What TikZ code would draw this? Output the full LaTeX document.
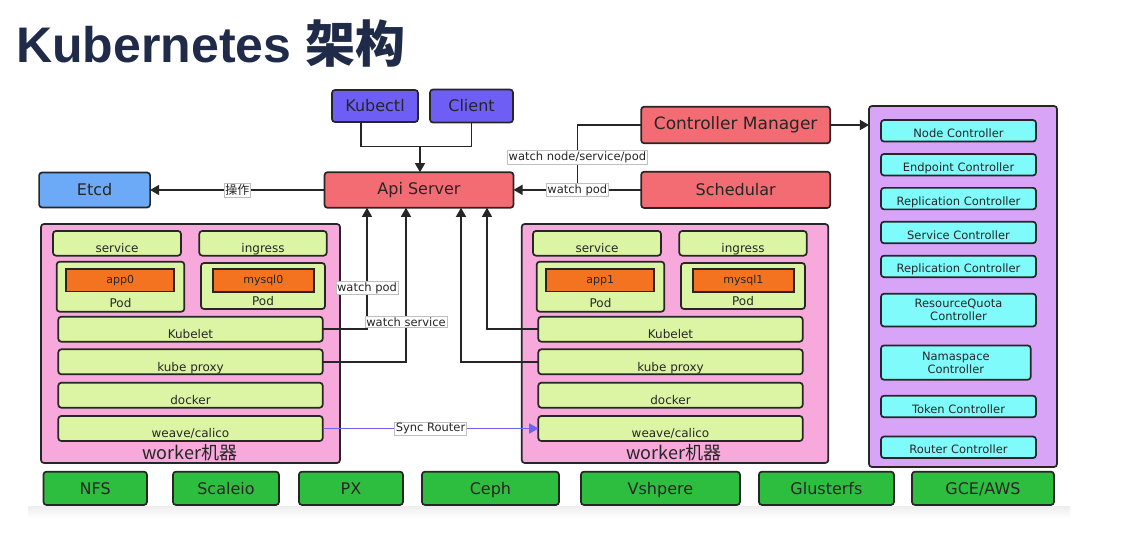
\documentclass[tikz,border=0pt]{standalone}
\usepackage{fontspec}
\setmainfont{DejaVu Sans}
\newfontfamily\cjk{Noto Sans CJK SC}
\newfontfamily\heads{Liberation Sans}
\usetikzlibrary{arrows,positioning}

\definecolor{navy}{HTML}{1F2B48}
\definecolor{ink}{HTML}{262626}
\definecolor{edge}{HTML}{262626}
\definecolor{kblue}{HTML}{6E5EF6}
\definecolor{etcdblue}{HTML}{6CAAF7}
\definecolor{kred}{HTML}{F46C73}
\definecolor{kpink}{HTML}{F6A9DA}
\definecolor{lgreen}{HTML}{DCF5A5}
\definecolor{korange}{HTML}{F47321}
\definecolor{kcyan}{HTML}{80FBFB}
\definecolor{kpurple}{HTML}{D8A4F8}
\definecolor{kgreen}{HTML}{2DBE3F}
\definecolor{syncblue}{HTML}{6F63F2}

\begin{document}
\begin{tikzpicture}[x=1pt,y=-1pt,>=triangle 60,
    box/.style={draw=edge,line width=1.7pt,rounded corners=3pt,inner sep=0pt,outer sep=0pt,text=ink},
    big/.style={box,font=\fontsize{16}{18}\selectfont},
    tag/.style={box,fill=lgreen,minimum height=24.7pt,text height=18.8pt,text depth=0pt,font=\fontsize{12}{14}\selectfont},
    pod/.style={box,fill=lgreen,font=\fontsize{12}{14}\selectfont,text depth=0pt},
    app/.style={box,fill=korange,rounded corners=0pt,minimum width=108pt,minimum height=22.5pt,font=\fontsize{11}{12}\selectfont},
    bar/.style={box,fill=lgreen,minimum width=264.4pt,minimum height=25pt,text height=18.6pt,text depth=0pt,font=\fontsize{12}{14}\selectfont},
    wlabel/.style={anchor=base,inner sep=0pt,text=ink,font=\cjk\fontsize{18}{20}\selectfont},
    ctrlbase/.style={box,fill=kcyan,minimum width=155pt,minimum height=21.5pt,align=center,font=\fontsize{11.5}{13.4}\selectfont},
    ctrl/.style={ctrlbase,text height=13pt,text depth=0pt},
    store/.style={box,fill=kgreen,minimum height=33.3pt,text height=13pt,text depth=0pt,font=\fontsize{16}{18}\selectfont},
    lbl/.style={fill=white,draw=black!25,line width=0.4pt,inner sep=1.2pt,text=ink,font=\fontsize{11.5}{13}\selectfont},
    link/.style={draw=edge,line width=1.5pt},
    sync/.style={draw=syncblue,line width=1.5pt}]

\useasboundingbox (0,0) rectangle (1124,544);
\shade[top color=black!7,bottom color=white] (28,506) rectangle (1070,518);

% title
\node[anchor=base west,inner sep=0pt,text=navy,font=\fontsize{50}{56}\selectfont] (title) at (16,62) {\heads\bfseries Kubernetes \cjk\bfseries 架构};

% master side
\node[big,fill=kblue,minimum width=86pt,minimum height=32pt] (kubectl) at (375,106) {Kubectl};
\node[big,fill=kblue,minimum width=83pt,minimum height=33pt,right=12pt of kubectl] (client) {Client};
\node[big,fill=kred,minimum width=189pt,minimum height=35.6pt] (api) at (419,190) {Api Server};
\node[big,fill=etcdblue,minimum width=111pt,minimum height=35pt] (etcd) at (94.6,190) {Etcd};
\node[big,fill=kred,minimum width=189pt,minimum height=36.6pt,font=\fontsize{17}{19}\selectfont] (cm) at (735.7,125) {Controller Manager};
\node[big,fill=kred,minimum width=189pt,minimum height=36.3pt,below=28.4pt of cm] (sched) {Schedular};

% controllers
\node[box,fill=kpurple,minimum width=188pt,minimum height=361pt] (ctrls) at (963,286.5) {};
\node[ctrl] (nodec) at (958.5,130.8) {Node Controller};
\node[ctrl,below=12.4pt of nodec] (endpc) {Endpoint Controller};
\node[ctrl,below=12.4pt of endpc] (replc) {Replication Controller};
\node[ctrl,below=12.4pt of replc] (svcc) {Service Controller};
\node[ctrl,below=12.4pt of svcc] (repltc) {Replication Controller};
\node[ctrlbase,minimum height=32.7pt,below=16.6pt of repltc] (rqc) {ResourceQuota\\Controller};
\node[ctrlbase,minimum width=149.7pt,minimum height=34.3pt,below=19pt of rqc.south west,anchor=north west] (nsc) {Namaspace\\Controller};
\node[ctrl,below=16pt of nsc.south west,anchor=north west] (tokenc) {Token Controller};
\node[ctrl,below=19.3pt of tokenc] (routerc) {Router Controller};

% worker 0
\node[box,fill=kpink,minimum width=299pt,minimum height=239pt] (worker0) at (190.5,343.5) {};
\node[tag,minimum width=128pt] (svc0) at (117,243.3) {service};
\node[tag,minimum width=127.4pt,right=18.3pt of svc0] (ing0) {ingress};
\node[pod,minimum width=127.6pt,minimum height=50pt,text height=40.6pt] (pod0) at (120.5,286.7) {Pod};
\node[app] (app0) at (120.2,280.3) {app0};
\node[pod,minimum width=124pt,minimum height=46pt,text height=38pt] (podm0) at (263,286) {Pod};
\node[app,minimum width=101pt] (mysql0) at (263.3,280.5) {mysql0};
\node[bar] (kubelet0) at (190.5,329.2) {Kubelet};
\node[bar,below=7.6pt of kubelet0] (proxy0) {kube proxy};
\node[bar,below=8.4pt of proxy0] (docker0) {docker};
\node[bar,below=8.3pt of docker0] (weave0) {weave/calico};
\node[wlabel] (wl0) at (190,459.3) {worker机器};

% worker 1
\node[box,fill=kpink,minimum width=306.6pt,minimum height=239pt] (worker1) at (675,343.5) {};
\node[tag,minimum width=128pt] (svc1) at (597,243.3) {service};
\node[tag,minimum width=127.4pt,right=18.3pt of svc1] (ing1) {ingress};
\node[pod,minimum width=127.6pt,minimum height=50pt,text height=40.6pt] (pod1) at (600.5,286.7) {Pod};
\node[app] (app1) at (600.2,280.3) {app1};
\node[pod,minimum width=124pt,minimum height=46pt,text height=38pt] (podm1) at (743,286) {Pod};
\node[app,minimum width=101pt] (mysql1) at (743.3,280.5) {mysql1};
\node[bar] (kubelet1) at (670.5,329.2) {Kubelet};
\node[bar,below=7.6pt of kubelet1] (proxy1) {kube proxy};
\node[bar,below=8.4pt of proxy1] (docker1) {docker};
\node[bar,below=8.3pt of docker1] (weave1) {weave/calico};
\node[wlabel] (wl1) at (674,459.3) {worker机器};

% storage
\node[store,minimum width=103.5pt] (nfs) at (95.2,488.3) {NFS};
\node[store,minimum width=106pt,right=26pt of nfs] (scaleio) {Scaleio};
\node[store,minimum width=104pt,right=20pt of scaleio] (px) {PX};
\node[store,minimum width=137pt,right=19pt of px] (ceph) {Ceph};
\node[store,minimum width=159pt,right=22pt of ceph] (vsph) {Vshpere};
\node[store,minimum width=135pt,right=19pt of vsph] (gluster) {Glusterfs};
\node[store,minimum width=142pt,right=18pt of gluster] (gce) {GCE/AWS};

% connectors
\coordinate (kc) at (420,146.7);
\draw[link] ([xshift=-14pt]kubectl.south) |- (kc) -| (client.south);
\draw[link,->] (kc) -- (kc |- api.north);
\draw[link,->] (api) -- node[lbl,font=\cjk\fontsize{12}{14}\selectfont] (op) {操作} (etcd);
\draw[link,->] (sched.west) -- node[lbl] (wp) {watch pod} (sched.west -| api.east);
\draw[link] (cm.west) -| node[lbl,pos=0.78] (wnsp) {watch node/service/pod} (wp.north);
\draw[link,->] (cm.east) -- (cm.east -| ctrls.west);
\draw[link,->] (kubelet0.east) -| node[lbl,pos=0.67] (wpod) {watch pod} ([xshift=-52pt]api.south);
\draw[link,->] (proxy0.east) -| node[lbl,pos=0.63] (wsvc) {watch service} ([xshift=-13pt]api.south);
\draw[link,->] (kubelet1.west) -| ([xshift=68pt]api.south);
\draw[link,->] (proxy1.west) -| ([xshift=42pt]api.south);
\draw[sync,->] (weave0.east) -- node[lbl] (sr) {Sync Router} (weave1.west);

\end{tikzpicture}
\end{document}
